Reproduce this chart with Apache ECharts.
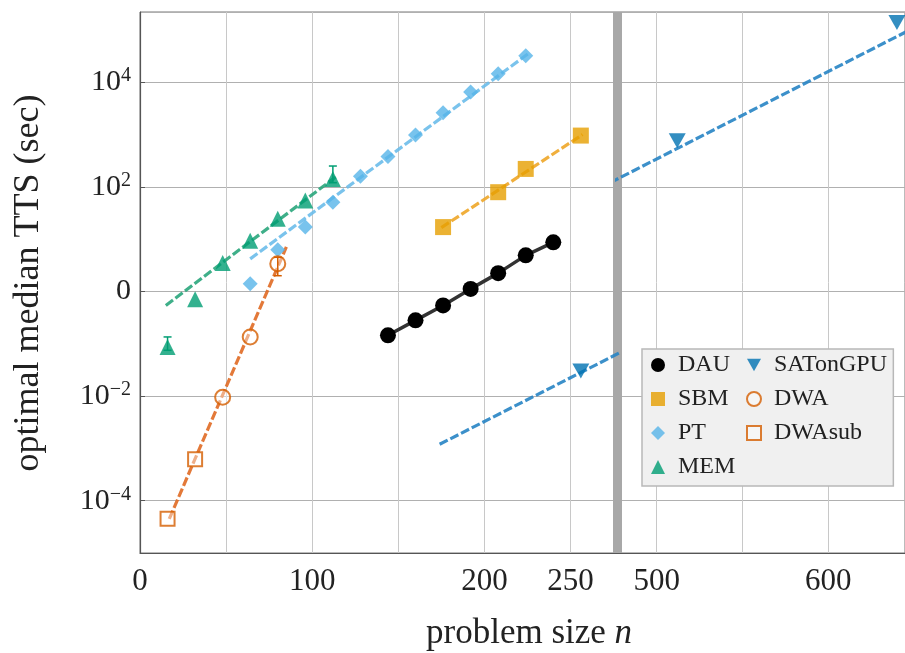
<!DOCTYPE html>
<html>
<head>
<meta charset="utf-8">
<script src="https://cdn.jsdelivr.net/npm/echarts@6/dist/echarts.min.js"></script>
<style>
  html,body{margin:0;padding:0;background:#fff;}
  #chart{width:905px;height:653px;}
</style>
</head>
<body>
<div id="chart"></div>
<script>
// problem sizes (n) and median TTS values (sec)
var nDAU = [144,160,176,192,208,224,240];
var ttsDAU = [0.145,0.28,0.54,1.12,2.24,4.9,8.7];

var nSBM = [176,208,224,256];
var ttsSBM = [17,79,220,955];

var nPT = [64,80,96,112,128,144,160,176,192,208,224];
var ttsPT = [1.4,6.3,17,51,160,380,980,2600,6500,14500,32000];

var nMEM = [16,32,48,64,80,96,112];
var ttsMEM = [0.087,0.71,3.5,9.3,24.5,55,141];

var nSAT = [256,512,640];
var ttsSAT = [0.030,760,138000];

var nDWA = [48,64,80];
var ttsDWA = [0.0095,0.135,3.4];

var nDWAsub = [16,32];
var ttsDWAsub = [4.5e-5,6.2e-4];

// visible error bars (n, low, high)
var errMEM_n = [16,112],  errMEM_lo = [0.075,120], errMEM_hi = [0.135,250];
var errDWA_n = [80],      errDWA_lo = [2.0],       errDWA_hi = [4.5];

// dashed fit lines (end points)
var fitMEM_n = [15,114],  fitMEM = [0.54,158];
var fitPT_n  = [64,226],  fitPT  = [4.2,36300];
var fitDWA_n = [17,85],   fitDWA = [4.5e-5,7.1];
var fitSBM_n = [175,257], fitSBM = [16.6,1000];
var fitSAT_n = [174,650], fitSAT = [1.2e-3,110000];

var xTicksLeft = [0,100,200,250];
var xTicksRight = [500,600];

var FONT = 'Liberation Serif';
var cBlack = '#000000', cSBM = '#E69F00', cPT = '#56B4E9', cMEM = '#009E73',
    cSAT = '#0072B2', cDWA = '#D55E00';
var downTri = 'path://M0,0 L10,0 L5,9 Z';

function pairs(ns, vs){
  var out = [];
  for (var i = 0; i < ns.length; i++) out.push([ns[i], vs[i]]);
  return out;
}
function pairsIn(ns, vs, lo, hi){
  return pairs(ns, vs).filter(function(p){ return p[0] >= lo && p[0] <= hi; });
}

var chart = echarts.init(document.getElementById('chart'));

function yAxisCfg(idx, showLabel){
  return {
    type: 'log', logBase: 100, gridIndex: idx,
    min: 1e-5, max: 2.2e5,
    axisLine: idx === 0 ? {show: true, lineStyle: {color: '#555', width: 1.2}}
                        : {show: true, lineStyle: {color: '#a8a8a8', width: 9, cap: 'butt'}},
    axisTick: {show: idx === 0, inside: true, length: 5, lineStyle: {color: '#555'}},
    splitLine: {show: true, lineStyle: {color: '#b0b0b0', width: 1}},
    axisLabel: {
      show: showLabel, margin: 9, showMinLabel: false, showMaxLabel: false,
      fontFamily: FONT, color: '#222',
      formatter: function(v){
        var e = Math.round(Math.log(v) / Math.LN10);
        if (e === 0) return '{b|0}';
        return '{b|10}{s|' + (e < 0 ? '\u2212' + (-e) : e) + '}';
      },
      rich: {
        b: {fontFamily: FONT, fontSize: 30, color: '#222', lineHeight: 32},
        s: {fontFamily: FONT, fontSize: 20, color: '#222', lineHeight: 20, verticalAlign: 'top'}
      }
    }
  };
}

function xLabelCfg(list){
  return {
    margin: 13, fontFamily: FONT, fontSize: 31, color: '#222',
    showMinLabel: list === xTicksLeft, showMaxLabel: false,
    formatter: function(v){ return list.indexOf(v) >= 0 ? String(v) : ''; }
  };
}

function fitSeries(name, ns, vs, color, gi){
  return {
    name: name + ' fit', type: 'line', xAxisIndex: gi, yAxisIndex: gi,
    data: pairs(ns, vs), symbol: 'none', silent: true, clip: true, z: 2,
    lineStyle: {color: color, width: 3.2, type: [9, 3], opacity: 0.9}
  };
}

function markSeries(name, ns, vs, symbol, size, style, gi, lo, hi){
  return {
    name: name, type: 'scatter', xAxisIndex: gi, yAxisIndex: gi,
    data: pairsIn(ns, vs, lo, hi), symbol: symbol, symbolSize: size, z: 4,
    itemStyle: style
  };
}

function errSeries(ns, los, his, color){
  var d = [];
  for (var i = 0; i < ns.length; i++) d.push([ns[i], los[i], his[i]]);
  return {
    type: 'custom', xAxisIndex: 0, yAxisIndex: 0, data: d, z: 5, silent: true,
    encode: {x: 0, y: [1, 2]},
    renderItem: function(params, api){
      var p0 = api.coord([api.value(0), api.value(1)]);
      var p1 = api.coord([api.value(0), api.value(2)]);
      var st = {stroke: color, lineWidth: 1.5};
      return {type: 'group', children: [
        {type: 'line', shape: {x1: p0[0], y1: p0[1], x2: p1[0], y2: p1[1]}, style: st},
        {type: 'line', shape: {x1: p0[0] - 4, y1: p0[1], x2: p0[0] + 4, y2: p0[1]}, style: st},
        {type: 'line', shape: {x1: p1[0] - 4, y1: p1[1], x2: p1[0] + 4, y2: p1[1]}, style: st}
      ]};
    }
  };
}

var L = [0, 277], R = [476.9, 644.7];

var option = {
  backgroundColor: '#ffffff',
  animation: false,
  grid: [
    {left: 140, top: 12, bottom: 100, right: 288, show: true, borderColor: '#777', borderWidth: 1},
    {left: 617, top: 12, bottom: 100, right: -2, show: true, borderColor: '#777', borderWidth: 1}
  ],
  xAxis: [
    {type: 'value', gridIndex: 0, min: L[0], max: L[1], interval: 50,
     axisLine: {lineStyle: {color: '#555', width: 1.2}}, axisTick: {show: false},
     splitLine: {lineStyle: {color: '#c8c8c8', width: 1}},
     axisLabel: xLabelCfg(xTicksLeft)},
    {type: 'value', gridIndex: 1, min: R[0], max: R[1], splitNumber: 3,
     axisLine: {lineStyle: {color: '#555', width: 1.2}}, axisTick: {show: false},
     splitLine: {lineStyle: {color: '#c8c8c8', width: 1}},
     axisLabel: xLabelCfg(xTicksRight)}
  ],
  yAxis: [yAxisCfg(0, true), yAxisCfg(1, false)],
  title: [
    {text: '{a|problem size }{i|n}', left: 421, top: 611,
     textStyle: {fontWeight: 'normal', rich: {
       a: {fontFamily: FONT, fontSize: 35, color: '#222', fontWeight: 'normal'},
       i: {fontFamily: FONT, fontSize: 35, color: '#222', fontStyle: 'italic', fontWeight: 'normal'}
     }}}
  ],
  graphic: [
    {type: 'text', x: 29, y: 283, rotation: Math.PI / 2,
     style: {text: 'optimal median TTS (sec)', font: '36px "Liberation Serif"', fill: '#222',
             textAlign: 'center', textVerticalAlign: 'middle'}}
  ],
  legend: [
    {orient: 'vertical', left: 642, top: 349, itemWidth: 14, itemHeight: 14, itemGap: 10,
     padding: [4, 158, 7, 9], backgroundColor: '#f0f0f0', borderColor: '#b8b8b8', borderWidth: 1.5,
     textStyle: {fontFamily: FONT, fontSize: 24, color: '#222', padding: [0, 0, 0, 8]},
     data: [{name: 'DAU', icon: 'circle'}, {name: 'SBM', icon: 'rect'},
            {name: 'PT', icon: 'diamond'}, {name: 'MEM', icon: 'triangle'}]},
    {orient: 'vertical', left: 746, top: 353, itemWidth: 14, itemHeight: 14, itemGap: 10,
     padding: 0,
     textStyle: {fontFamily: FONT, fontSize: 24, color: '#222', padding: [0, 0, 0, 8]},
     data: [{name: 'SATonGPU', icon: downTri}, {name: 'DWA', icon: 'circle'}, {name: 'DWAsub', icon: 'rect'}]}
  ],
  series: [
    fitSeries('MEM', fitMEM_n, fitMEM, '#2aa67c', 0),
    fitSeries('PT', fitPT_n, fitPT, '#6cbdea', 0),
    fitSeries('DWA', fitDWA_n, fitDWA, '#e06a24', 0),
    fitSeries('SBM', fitSBM_n, fitSBM, '#eea628', 0),
    fitSeries('SATonGPU', fitSAT_n, fitSAT, '#2784c4', 0),
    fitSeries('SATonGPU', fitSAT_n, fitSAT, '#2784c4', 1),
    {name: 'DAU', type: 'line', xAxisIndex: 0, yAxisIndex: 0, data: pairs(nDAU, ttsDAU),
     symbol: 'circle', symbolSize: 16, z: 4,
     lineStyle: {color: '#333', width: 3.5}, itemStyle: {color: cBlack}},
    markSeries('SBM', nSBM, ttsSBM, 'rect', 16, {color: cSBM}, 0, L[0], L[1]),
    markSeries('PT', nPT, ttsPT, 'diamond', 15, {color: cPT}, 0, L[0], L[1]),
    markSeries('MEM', nMEM, ttsMEM, 'triangle', 16, {color: cMEM}, 0, L[0], L[1]),
    markSeries('SATonGPU', nSAT, ttsSAT, downTri, [17, 15], {color: cSAT}, 0, L[0], L[1]),
    markSeries('SATonGPU', nSAT, ttsSAT, downTri, [17, 15], {color: cSAT}, 1, R[0], R[1]),
    markSeries('DWA', nDWA, ttsDWA, 'circle', 15, {color: 'rgba(255,255,255,0.5)', borderColor: cDWA, borderWidth: 2}, 0, L[0], L[1]),
    markSeries('DWAsub', nDWAsub, ttsDWAsub, 'rect', 14, {color: 'rgba(255,255,255,0.5)', borderColor: cDWA, borderWidth: 2}, 0, L[0], L[1]),
    errSeries(errMEM_n, errMEM_lo, errMEM_hi, cMEM),
    errSeries(errDWA_n, errDWA_lo, errDWA_hi, cDWA)
  ]
};

chart.setOption(option);
</script>
</body>
</html>
